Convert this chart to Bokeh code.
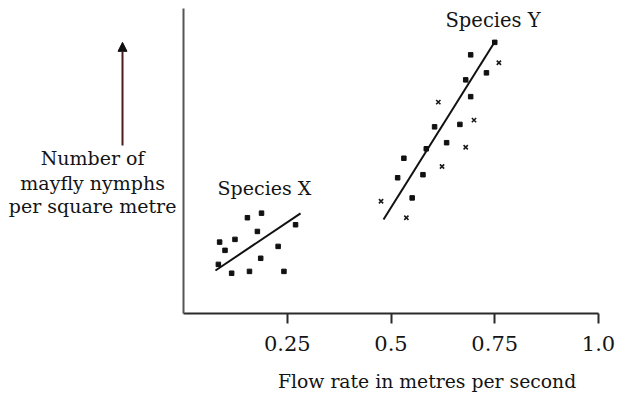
from bokeh.plotting import figure
from bokeh.models import Range1d, FixedTicker, Label, Arrow, NormalHead
from bokeh.embed import file_html
from bokeh.resources import INLINE

# Species X: flow rate (m/s) and relative nymph density
x_flow = [0.154, 0.188, 0.087, 0.124, 0.178, 0.100, 0.228, 0.186, 0.270,
          0.116, 0.159, 0.242, 0.084]
x_count = [31.4, 32.9, 23.4, 24.3, 26.9, 20.7, 22.0, 18.1, 29.1,
           13.2, 13.8, 13.8, 16.1]
x_fit_flow = [0.077, 0.282]
x_fit_count = [14.1, 32.8]

# Species Y
y_flow = [0.750, 0.692, 0.760, 0.730, 0.680, 0.692, 0.614, 0.700, 0.666,
          0.605, 0.634, 0.680, 0.585, 0.531, 0.623, 0.577, 0.516, 0.551,
          0.476, 0.537]
y_count = [88.9, 84.8, 82.2, 78.9, 76.6, 71.1, 69.3, 63.4, 62.0,
           61.2, 56.0, 54.5, 54.0, 50.9, 48.2, 45.5, 44.5, 37.9,
           36.8, 31.4]
y_cross = [False, False, True, False, False, False, True, True, False,
           False, False, True, False, False, True, False, False, False,
           True, True]
y_fit_flow = [0.482, 0.752]
y_fit_count = [30.8, 89.5]

tick_values = [0.25, 0.5, 0.75, 1.0]
tick_labels = ["0.25", "0.5", "0.75", "1.0"]

FONT = "DejaVu Serif"
INK = "#141414"

# the frame spans the whole page; the axes sit at the data origin
p = figure(width=629, height=394, output_backend="svg", toolbar_location=None,
           x_range=Range1d(-0.441, 1.0747), y_range=Range1d(-26.56, 102.62),
           min_border=0)
p.outline_line_color = None
p.grid.visible = False
p.background_fill_color = "white"
p.border_fill_color = "white"

xa = p.xaxis[0]
xa.fixed_location = 0
xa.bounds = (0, 1.0)
xa.ticker = FixedTicker(ticks=tick_values)
xa.major_label_overrides = dict(zip(tick_values, tick_labels))
xa.axis_line_color = "#2a2a2a"
xa.axis_line_width = 2
xa.major_tick_line_color = "#2a2a2a"
xa.major_tick_line_width = 2
xa.major_tick_in = 0
xa.major_tick_out = 10
xa.minor_tick_line_color = None
xa.major_label_text_font = FONT
xa.major_label_text_font_size = "21px"
xa.major_label_text_color = INK
xa.major_label_standoff = 13

ya = p.yaxis[0]
ya.fixed_location = 0
ya.bounds = (0, 100)
ya.ticker = FixedTicker(ticks=[])
ya.axis_line_color = "#555555"
ya.axis_line_width = 2
ya.major_tick_line_color = None
ya.minor_tick_line_color = None

# fitted trend lines
p.line(x_fit_flow, x_fit_count, line_color="#111111", line_width=2)
p.line(y_fit_flow, y_fit_count, line_color="#111111", line_width=2)

# observations
p.scatter(x_flow, x_count, marker="square", size=4.5, color="#111111")
yf_sq = [f for f, c in zip(y_flow, y_cross) if not c]
yc_sq = [v for v, c in zip(y_count, y_cross) if not c]
yf_x = [f for f, c in zip(y_flow, y_cross) if c]
yc_x = [v for v, c in zip(y_count, y_cross) if c]
p.scatter(yf_sq, yc_sq, marker="square", size=4.5, color="#111111")
p.scatter(yf_x, yc_x, marker="x", size=6, line_color="#1a1a1a", line_width=1.6)

def note(x, y, text, size="19px"):
    p.add_layout(Label(x=x, y=y, text=text, text_font=FONT, text_font_size=size,
                       text_color=INK, text_align="center", text_baseline="middle"))

note(0.195, 41.3, "Species X")
note(0.746, 96.1, "Species Y", "19.5px")
note(0.587, -22.3, "Flow rate in metres per second", "18.8px")
note(-0.219, 51.1, "Number of")
note(-0.219, 42.9, "mayfly nymphs")
note(-0.219, 35.4, "per square metre")

p.add_layout(Arrow(x_start=-0.147, y_start=55.1, x_end=-0.147, y_end=88.9,
                   line_color="#4a1c1c", line_width=2,
                   end=NormalHead(size=9, fill_color="#111111", line_color="#111111")))

open("out.html", "w").write(file_html(p, INLINE))
